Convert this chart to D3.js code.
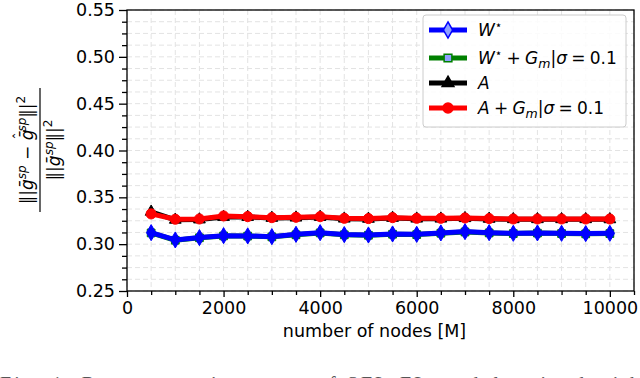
<!DOCTYPE html>
<html><head><meta charset="utf-8">
<script src="https://cdn.jsdelivr.net/npm/d3@7"></script>
<style>html,body{margin:0;padding:0;background:#fff;}svg{display:block;}</style>
</head><body>
<script>
const nodes = [500,1000,1500,2000,2500,3000,3500,4000,4500,5000,5500,6000,6500,7000,7500,8000,8500,9000,9500,10000];
const wStar   = [0.3123,0.3045,0.3070,0.3091,0.3088,0.3080,0.3105,0.3123,0.3102,0.3098,0.3109,0.3105,0.3120,0.3134,0.3123,0.3116,0.3120,0.3116,0.3113,0.3116];
const wStarG  = [0.3120,0.3042,0.3068,0.3088,0.3086,0.3078,0.3100,0.3120,0.3100,0.3095,0.3106,0.3102,0.3117,0.3130,0.3120,0.3113,0.3118,0.3113,0.3110,0.3113];
const aVals   = [0.3345,0.3260,0.3263,0.3290,0.3290,0.3280,0.3283,0.3290,0.3272,0.3270,0.3280,0.3272,0.3272,0.3277,0.3270,0.3266,0.3266,0.3266,0.3266,0.3265];
const aGVals  = [0.3323,0.3266,0.3269,0.3301,0.3294,0.3283,0.3287,0.3294,0.3276,0.3273,0.3283,0.3276,0.3276,0.3280,0.3273,0.3269,0.3269,0.3269,0.3269,0.3269];
const xTicks = [0,2000,4000,6000,8000,10000];
const yTicks = [0.25,0.30,0.35,0.40,0.45,0.50,0.55];
const xDomain = [0,10500];
const yDomain = [0.25,0.55];

const W=640,H=378;
const L=127,R=634,T=10,B=291;
const svg=d3.select("body").append("svg").attr("width",W).attr("height",H);
const x=d3.scaleLinear().domain(xDomain).range([L,R]);
const y=d3.scaleLinear().domain(yDomain).range([B,T]);
const font="DejaVu Sans, sans-serif";

// grid (major + minor)
const xMinor=d3.range(0,10501,500), yMinor=d3.range(0,25).map(i=>0.25+i*0.0125);
const grid=svg.append("g").attr("stroke","#e3e3e3").attr("stroke-width",1).attr("stroke-dasharray","5,3");
grid.selectAll("line.v").data(xMinor).join("line").attr("x1",d=>x(d)).attr("x2",d=>x(d)).attr("y1",T).attr("y2",B);
grid.selectAll("line.h").data(yMinor).join("line").attr("y1",d=>y(d)).attr("y2",d=>y(d)).attr("x1",L).attr("x2",R);

// axes
const xAx=svg.append("g").attr("transform",`translate(0,${B})`)
  .call(d3.axisBottom(x).tickValues(xTicks).tickFormat(d3.format("d")).tickSize(6).tickPadding(5));
const xAxMin=svg.append("g").attr("transform",`translate(0,${B})`)
  .call(d3.axisBottom(x).tickValues(xMinor.filter(d=>d%2000!==0)).tickFormat("").tickSize(4));
const yAx=svg.append("g").attr("transform",`translate(${L},0)`)
  .call(d3.axisLeft(y).tickValues(yTicks).tickFormat(d3.format(".2f")).tickSize(8).tickPadding(4));
const yAxMin=svg.append("g").attr("transform",`translate(${L},0)`)
  .call(d3.axisLeft(y).tickValues(yMinor.filter((d,i)=>i%4!==0)).tickFormat("").tickSize(5));
[xAx,xAxMin,yAx,yAxMin].forEach(g=>{
  g.select(".domain").remove();
  g.selectAll(".tick line").attr("stroke","#000").attr("stroke-width",1.3);
  g.selectAll("text").attr("font-family",font).attr("font-size",17.5).attr("fill","#000");
});

// series
const series=[
  {vals:wStarG,color:"#008000",marker:"square"},
  {vals:wStar,color:"#0000ff",marker:"diamond"},
  {vals:aVals,color:"#000000",marker:"triangle"},
  {vals:aGVals,color:"#ff0000",marker:"circle"}
];
const symMap={square:d3.symbolSquare,diamond:d3.symbolDiamond,triangle:d3.symbolTriangle,circle:d3.symbolCircle};
const sizeMap={square:60,diamond:75,triangle:60,circle:80};
const line=d3.line().x(d=>x(d[0])).y(d=>y(d[1]));
const plot=svg.append("g");
series.forEach(s=>{
  const pts=nodes.map((n,i)=>[n,s.vals[i]]);
  plot.append("path").datum(pts).attr("d",line).attr("fill","none").attr("stroke",s.color).attr("stroke-width",5).attr("stroke-linejoin","round");
  plot.selectAll(null).data(pts).join("path")
    .attr("transform",d=>`translate(${x(d[0])},${y(d[1])})`)
    .attr("d",d3.symbol(symMap[s.marker],sizeMap[s.marker]))
    .attr("fill",s.color).attr("stroke",s.color).attr("stroke-width",1);
});

// frame
svg.append("rect").attr("x",L).attr("y",T).attr("width",R-L).attr("height",B-T).attr("fill","none").attr("stroke","#000").attr("stroke-width",1.3);

// legend
const lg=svg.append("g");
lg.append("rect").attr("x",423).attr("y",15).attr("width",203).attr("height",112).attr("rx",3)
  .attr("fill","#fff").attr("fill-opacity",0.85).attr("stroke","#cccccc").attr("stroke-width",1);
const sp="\u2005";
const legRows=[
  {s:series[1],y:30,parts:[["W","i"],["⋆","sup"]]},
  {s:series[0],y:58,parts:[["W","i"],["⋆","sup"],[sp+"+"+sp,""],["G","i"],["m","sub"],["|","n"],["σ","i"],[sp+"="+sp+"0.1",""]]},
  {s:series[2],y:83,parts:[["A","i"]]},
  {s:series[3],y:108,parts:[["A","i"],[sp+"+"+sp,""],["G","i"],["m","sub"],["|","n"],["σ","i"],[sp+"="+sp+"0.1",""]]}
];
legRows.forEach(r=>{
  lg.append("line").attr("x1",429).attr("x2",467).attr("y1",r.y).attr("y2",r.y).attr("stroke",r.s.color).attr("stroke-width",5);
  lg.append("path").attr("transform",`translate(448,${r.y})`).attr("d",d3.symbol(symMap[r.s.marker],sizeMap[r.s.marker]))
    .attr("fill",r.s.marker==="diamond"||r.s.marker==="square"?"#8fa0ff":r.s.color).attr("stroke",r.s.color).attr("stroke-width",1.5);
  const t=lg.append("text").attr("x",478).attr("y",r.y+6).attr("font-family",font).attr("font-size",17).attr("fill","#000");
  let prev=null;
  r.parts.forEach(p=>{
    const ts=t.append("tspan").text(p[0]);
    if(p[1]==="i") ts.attr("font-style","italic");
    if(p[1]==="sup") ts.attr("font-size",12).attr("dy",-7);
    else if(p[1]==="sub") ts.attr("font-size",12.5).attr("dy",4).attr("font-style","italic");
    else { if(prev==="sup") ts.attr("dy",7); if(prev==="sub") ts.attr("dy",-4); }
    prev=p[1];
  });
});

// x label
svg.append("text").attr("x",(L+R)/2-6).attr("y",337).attr("text-anchor","middle").attr("font-family",font).attr("font-size",17.5).text("number of nodes [M]");

// y label (fraction)
const yl=svg.append("g").attr("transform","translate(40,150) rotate(-90)").attr("font-family",font).attr("fill","#000");
const num=yl.append("text").attr("x",0).attr("y",-7).attr("text-anchor","middle").attr("font-size",17);
num.append("tspan").text("‖|");
num.append("tspan").attr("font-style","italic").text("ḡ");
num.append("tspan").attr("font-style","italic").attr("font-size",12).attr("dy",-7).text("sp");
num.append("tspan").attr("dy",7).text(" − ");
num.append("tspan").attr("font-style","italic").text("ḡ");
num.append("tspan").attr("font-size",14).attr("dx",-10).attr("dy",-9).text("\u02C6");
num.append("tspan").attr("font-style","italic").attr("font-size",12).attr("dx",1).attr("dy",2).text("sp");
num.append("tspan").attr("dy",7).text("‖|");
num.append("tspan").attr("font-size",12).attr("dy",-8).text("2");
yl.append("line").attr("x1",-62).attr("x2",62).attr("y1",0).attr("y2",0).attr("stroke","#000").attr("stroke-width",1.2);
const den=yl.append("text").attr("x",0).attr("y",20).attr("text-anchor","middle").attr("font-size",17);
den.append("tspan").text("‖|");
den.append("tspan").attr("font-style","italic").text("ḡ");
den.append("tspan").attr("font-style","italic").attr("font-size",12).attr("dy",-7).text("sp");
den.append("tspan").attr("dy",7).text("‖|");
den.append("tspan").attr("font-size",12).attr("dy",-8).text("2");

// cut-off caption (cropped in the reference as well)
svg.append("text").attr("x",0).attr("y",391).attr("font-family","Liberation Serif, serif").attr("font-size",20).attr("fill","#555")
  .attr("textLength",640).attr("lengthAdjust","spacing")
  .text("Fig. 1: Reconstruction error of SFL-FL model trained with");
</script>
</body></html>
